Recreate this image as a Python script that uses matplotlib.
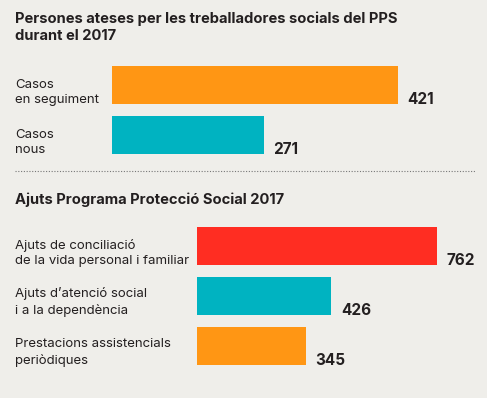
import matplotlib
matplotlib.use("Agg")
import matplotlib.pyplot as plt
import matplotlib.transforms as mtransforms

plt.rcParams['font.family'] = ['Inter', 'DejaVu Sans']

BG = '#efeeea'
TXT = '#231f20'

# --- data ---
title1 = "Persones ateses per les treballadores socials del PPS\ndurant el 2017"
cats1 = ["Casos\nen seguiment", "Casos\nnous"]
vals1 = [421, 271]
cols1 = ['#ff9614', '#00b3c1']

title2 = "Ajuts Programa Protecció Social 2017"
cats2 = ["Ajuts de conciliació\nde la vida personal i familiar",
         "Ajuts d\u2019atenció social\ni a la dependència",
         "Prestacions assistencials\nperiòdiques"]
vals2 = [762, 426, 345]
cols2 = ['#ff2d22', '#00b3c1', '#ff9614']

W, H = 487, 398
fig = plt.figure(figsize=(W / 100, H / 100), dpi=100, facecolor=BG)


def px_axes(left, top, right, bottom):
    return fig.add_axes([left / W, 1 - bottom / H, (right - left) / W, (bottom - top) / H])


def draw_section(ax, cats, vals, cols, xlim, barh=0.76):
    n = len(vals)
    ys = list(range(n))
    ax.barh(ys, vals, height=barh, color=cols, left=0)
    ax.set_xlim(*xlim)
    ax.set_ylim(n - 0.5, -0.5)
    ax.axis('off')
    ax.patch.set_alpha(0)
    for y, v in zip(ys, vals):
        ax.annotate(f"{v}", xy=(v, y + barh / 2), xytext=(7, 0), textcoords='offset points',
                    ha='left', va='baseline', fontsize=11, fontweight='bold', color=TXT,
                    annotation_clip=False)
    tr = mtransforms.blended_transform_factory(fig.transFigure, ax.transData)
    for y, c in zip(ys, cats):
        ax.text(15 / W, y + barh / 2 - 0.02, c, transform=tr, ha='left', va='baseline',
                fontsize=9.5, color=TXT, linespacing=1.38)


ax1 = px_axes(112, 60, 476, 160)
# axis starts at 101 so bars match the reference's drawn lengths
draw_section(ax1, cats1, vals1, cols1, (101, 101 + 364 / 0.893))

ax2 = px_axes(197, 221, 476, 371)
draw_section(ax2, cats2, vals2, cols2, (0, 279 / 0.315))

fig.text(15 / W, 1 - 40 / H, title1, ha='left', va='baseline', fontsize=10.6,
         fontweight='bold', color=TXT, linespacing=1.3)
fig.text(15 / W, 1 - 204 / H, title2, ha='left', va='baseline', fontsize=10.6,
         fontweight='bold', color=TXT)

fig.add_artist(plt.Line2D([15 / W, 476 / W], [1 - 171 / H, 1 - 171 / H],
                          transform=fig.transFigure, color='#777777', lw=0.8,
                          linestyle=(0, (1, 1.5))))

fig.savefig('out.png', dpi=100, facecolor=BG)
